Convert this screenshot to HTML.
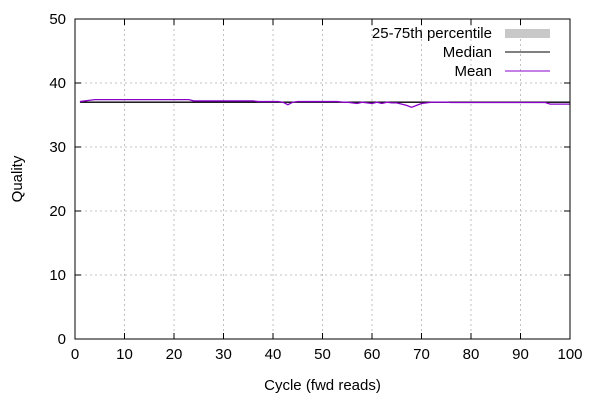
<!DOCTYPE html>
<html><head><meta charset="utf-8">
<style>
html,body{margin:0;padding:0;background:#fff;}
svg{display:block;font-family:"Liberation Sans",sans-serif;}
</style></head>
<body>
<svg id="chart" width="600" height="400">
<g id="grid"></g>
<g id="series"></g>
<g id="axes"></g>
<g id="legend"></g>
</svg>
<script>
const cycles = [];
for (let i = 1; i <= 100; i++) cycles.push(i);
const medianValues = [37,37,37,37,37,37,37,37,37,37,37,37,37,37,37,37,37,37,37,37,37,37,37,37,37,37,37,37,37,37,37,37,37,37,37,37,37,37,37,37,37,37,37,37,37,37,37,37,37,37,37,37,37,37,37,37,37,37,37,37,37,37,37,37,37,37,37,37,37,37,37,37,37,37,37,37,37,37,37,37,37,37,37,37,37,37,37,37,37,37,37,37,37,37,37,37,37,37,37,37];
const meanValues = [37.1,37.2,37.3,37.4,37.4,37.4,37.4,37.4,37.4,37.4,37.4,37.4,37.4,37.4,37.4,37.4,37.4,37.4,37.4,37.4,37.4,37.4,37.4,37.2,37.2,37.2,37.2,37.2,37.2,37.2,37.2,37.2,37.2,37.2,37.2,37.2,37.1,37.1,37.1,37.1,37.1,37.0,36.6,37.0,37.1,37.1,37.1,37.1,37.1,37.1,37.1,37.1,37.1,37.0,37.0,36.9,36.8,37.0,36.9,36.8,37.0,36.8,37.0,36.9,36.9,36.7,36.5,36.2,36.5,36.8,36.9,37.0,37.0,37.0,37.0,36.95,36.95,36.95,36.95,36.95,36.95,36.95,36.95,36.95,36.95,36.95,36.95,36.95,36.95,36.95,36.95,36.95,36.95,36.95,36.95,36.7,36.7,36.7,36.7,36.7];
const q25Values = medianValues.slice();
const q75Values = medianValues.slice();
const xTicks = [0,10,20,30,40,50,60,70,80,90,100];
const yTicks = [0,10,20,30,40,50];

const X0=75,X1=570,Y0=339,Y1=19;
const sx = v => X0 + (v-0)/(100-0)*(X1-X0);
const sy = v => Y0 - (v-0)/(50-0)*(Y0-Y1);
const NS="http://www.w3.org/2000/svg";
function mk(tag, attrs, parent){const e=document.createElementNS(NS,tag);for(const k in attrs)e.setAttribute(k,attrs[k]);parent.appendChild(e);return e;}
const grid=document.getElementById('grid'),axes=document.getElementById('axes'),series=document.getElementById('series'),legend=document.getElementById('legend');

xTicks.forEach(t=>{
  const x=sx(t);
  if(t>0&&t<100){const g=mk('line',{x1:x,x2:x,y1:Y1,y2:Y0,stroke:'#c0c0c0','stroke-dasharray':'2,3','stroke-width':1},grid);
  
  }
  mk('line',{x1:x,x2:x,y1:Y0,y2:Y0-6,stroke:'#000'},axes);
  mk('line',{x1:x,x2:x,y1:Y1,y2:Y1+6,stroke:'#000'},axes);
  const tx=mk('text',{x:x,y:Y0+20,'text-anchor':'middle','font-size':15,fill:'#000'},axes);
  tx.textContent=t;
  
  
});
yTicks.forEach(t=>{
  const y=sy(t);
  if(t>0&&t<50){const g=mk('line',{x1:X0,x2:X1,y1:y,y2:y,stroke:'#c0c0c0','stroke-dasharray':'2,3','stroke-width':1},grid);
  
  }
  mk('line',{x1:X0,x2:X0+6,y1:y,y2:y,stroke:'#000'},axes);
  mk('line',{x1:X1,x2:X1-6,y1:y,y2:y,stroke:'#000'},axes);
  const tx=mk('text',{x:X0-9,y:y+5,'text-anchor':'end','font-size':15,fill:'#000'},axes);
  tx.textContent=t;
  
  
});
const frame=mk('rect',{x:X0,y:Y1,width:X1-X0,height:Y0-Y1,fill:'none',stroke:'#000'},axes);



let bp=cycles.map((c,i)=>sx(c)+','+sy(q75Values[i])).join(' ')+' '+cycles.slice().reverse().map((c,j)=>{const i=cycles.length-1-j;return sx(c)+','+sy(q25Values[i]);}).join(' ');
const band=mk('polygon',{points:bp,fill:'#c8c8c8',stroke:'none'},series);


const med=mk('polyline',{points:cycles.map((c,i)=>sx(c)+','+sy(medianValues[i])).join(' '),fill:'none',stroke:'#000','stroke-width':1.3},series);


const mean=mk('polyline',{points:cycles.map((c,i)=>sx(c)+','+sy(meanValues[i])).join(' '),fill:'none',stroke:'#8a00c8','stroke-width':1.3},series);



const xl=mk('text',{x:(X0+X1)/2,y:390,'text-anchor':'middle','font-size':15},axes);
xl.textContent='Cycle (fwd reads)';


const yl=mk('text',{x:0,y:0,'text-anchor':'middle','font-size':15,transform:'translate(22,179) rotate(-90)'},axes);
yl.textContent='Quality';



const items=[['25-75th percentile','band'],['Median','#000'],['Mean','#8a00c8']];
items.forEach((it,k)=>{
  const y=33+k*19;
  const t=mk('text',{x:492,y:y+5,'text-anchor':'end','font-size':15},legend);
  t.textContent=it[0];
  
  
  let s;
  if(it[1]==='band') s=mk('rect',{x:505,y:y-4,width:45,height:9,fill:'#c8c8c8'},legend);
  else s=mk('line',{x1:505,x2:550,y1:y,y2:y,stroke:it[1],'stroke-width':1},legend);
  
  
});
</script>
</body></html>
